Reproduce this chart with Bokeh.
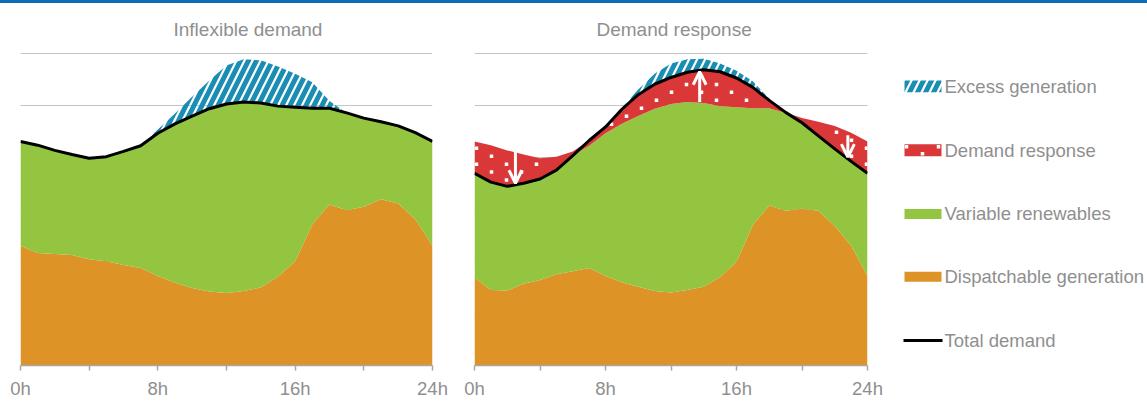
import numpy as np
from bokeh.plotting import figure
from bokeh.layouts import row, column
from bokeh.models import Range1d, FixedTicker, Arrow, OpenHead, ColumnDataSource, Div
from bokeh.core.properties import value
from bokeh.embed import file_html
from bokeh.resources import INLINE

# ---------------- data ----------------
hours = list(range(25))

demand_inflexible = [4.30, 4.23, 4.13, 4.05, 3.98, 4.01, 4.11, 4.22, 4.46, 4.64, 4.79, 4.93, 5.02,
                     5.06, 5.04, 4.98, 4.96, 4.94, 4.94, 4.85, 4.75, 4.68, 4.60, 4.47, 4.30]
dispatchable_left = [2.30, 2.16, 2.14, 2.12, 2.04, 2.00, 1.93, 1.87, 1.72, 1.59, 1.49, 1.42, 1.39,
                     1.43, 1.50, 1.71, 2.00, 2.71, 3.09, 2.98, 3.05, 3.19, 3.11, 2.81, 2.30]
supply_left = [None, None, None, None, None, None, None, None, 4.53, 4.84, 5.16, 5.47, 5.76,
               5.88, 5.86, 5.74, 5.60, 5.44, 5.08, None, None, None, None, None, None]

demand_flexible = [3.69, 3.52, 3.44, 3.50, 3.58, 3.75, 4.03, 4.32, 4.58, 4.92, 5.20, 5.40, 5.53,
                   5.63, 5.68, 5.64, 5.52, 5.34, 5.09, 4.86, 4.66, 4.41, 4.16, 3.92, 3.69]
dispatchable_right = [1.69, 1.45, 1.44, 1.57, 1.64, 1.75, 1.81, 1.87, 1.72, 1.60, 1.51, 1.43, 1.40,
                      1.45, 1.51, 1.70, 1.99, 2.70, 3.07, 2.97, 3.01, 2.97, 2.68, 2.30, 1.72]
supply_right = [None, None, None, None, None, None, None, None, None, 4.95, 5.30, 5.60, 5.80,
                5.88, 5.89, 5.80, 5.66, 5.46, 5.12, None, None, None, None, None, None]

arrow_hours = [2.5, 13.75, 22.8]
arrow_start = [4.10, 5.06, 4.42]
arrow_end = [3.50, 5.64, 4.00]

tick_hours = [0, 4, 8, 12, 16, 20, 24]
tick_labels = ["0h", "", "8h", "", "16h", "", "24h"]
grid_values = [1, 2, 3, 4, 5, 6]
panel_titles = ["Inflexible demand", "Demand response"]
legend_labels = ["Excess generation", "Demand response", "Variable renewables",
                 "Dispatchable generation", "Total demand"]

# ---------------- style ----------------
FONT = "Liberation Sans"
FS = "18.5px"
GREY = "#8f8f8f"
ORANGE = "#de9326"
GREEN = "#93c540"
RED = "#da3838"
BLUE = "#1a8db3"
TOPBLUE = "#0b6db6"
AXIS = "#a6a6a6"

FIG_H = 398          # below a 3px top bar
B_TOP = 47           # frame top (figure px)
B_BOT = 35           # bottom border
FRAME_H = FIG_H - B_TOP - B_BOT
Y_TOP = 6.048
PX_PER_UNIT = FRAME_H / Y_TOP

# white dot texture spacing (px)
DOT_DX, DOT_DY = 15.0, 16.0


def arr(a):
    return np.array([np.nan if v is None else v for v in a], dtype=float)


def panel(width, bl, br, title, title_offset):
    p = figure(width=width, height=FIG_H, x_range=Range1d(0, 24), y_range=Range1d(0, Y_TOP),
               min_border_left=bl, min_border_right=br, min_border_top=B_TOP,
               min_border_bottom=B_BOT, toolbar_location=None, output_backend="svg",
               y_axis_location=None, title=title)
    p.title.align = "left"
    p.title.offset = title_offset
    p.title.standoff = 22
    p.title.text_font = FONT
    p.title.text_font_size = "19px"
    p.title.text_font_style = "normal"
    p.title.text_color = GREY
    p.outline_line_color = None
    p.background_fill_color = "white"
    p.border_fill_color = "white"
    p.xgrid.visible = False
    p.ygrid.ticker = FixedTicker(ticks=grid_values)
    p.ygrid.grid_line_color = "#c4c4c4"
    p.ygrid.grid_line_width = 1
    ax = p.xaxis[0]
    ax.ticker = FixedTicker(ticks=tick_hours)
    ax.major_label_overrides = {h: l for h, l in zip(tick_hours, tick_labels)}
    ax.axis_line_color = AXIS
    ax.axis_line_width = 1.5
    ax.major_tick_line_color = AXIS
    ax.major_tick_line_width = 1.5
    ax.major_tick_in = 0
    ax.major_tick_out = 5
    ax.minor_tick_line_color = None
    ax.major_label_text_font = FONT
    ax.major_label_text_font_size = FS
    ax.major_label_text_color = GREY
    ax.major_label_standoff = 7
    return p


# ---------------- left panel ----------------
dl = arr(demand_inflexible)
sl = arr(supply_left)
src_l = ColumnDataSource(dict(
    h=hours, disp=dispatchable_left, dem=dl,
    exc=np.where(np.isnan(sl), dl, np.maximum(sl, dl)),
))
p1 = panel(452, 20, 20, panel_titles[0], 153)
p1.varea(x="h", y1=0, y2="disp", source=src_l, fill_color=ORANGE)
p1.varea(x="h", y1="disp", y2="dem", source=src_l, fill_color=GREEN)
p1.varea(x="h", y1="dem", y2="exc", source=src_l, fill_alpha=0, hatch_pattern="/",
         hatch_color=BLUE, hatch_weight=5, hatch_scale=16)
p1.line(x="h", y="dem", source=src_l, line_color="black", line_width=3, line_join="round")

# ---------------- right panel ----------------
df = arr(demand_flexible)
sr = arr(supply_right)
lo = np.minimum(dl, df)
hi = np.maximum(dl, df)
src_r = ColumnDataSource(dict(
    h=hours, disp=dispatchable_right, dem=df, lo=lo, hi=hi,
    exc=np.where(np.isnan(sr), df, np.maximum(sr, df)),
))
p2 = panel(433, 22, 18, panel_titles[1], 122)
p2.varea(x="h", y1=0, y2="disp", source=src_r, fill_color=ORANGE)
p2.varea(x="h", y1="disp", y2="lo", source=src_r, fill_color=GREEN)
p2.varea(x="h", y1="lo", y2="hi", source=src_r, fill_color=RED)

# texture of small white squares inside the demand-response band (staggered grid)
px_per_hour = 393 / 24
dots_h, dots_v = [], []
margin = 3.0 / PX_PER_UNIT
for j in range(int(393 / DOT_DX) + 1):
    xpx = 2 + j * DOT_DX
    hh = xpx / px_per_hour
    l_, h_ = np.interp(hh, hours, lo), np.interp(hh, hours, hi)
    for k in range(-2, 40):
        ypx = 10 + k * DOT_DY + (DOT_DY / 2 if j % 2 else 0)
        vv = ypx / PX_PER_UNIT
        if l_ + margin < vv < h_ - margin:
            dots_h.append(hh)
            dots_v.append(vv)
p2.scatter(x=dots_h, y=dots_v, marker="square", size=3.5, fill_color="white", line_color=None)

p2.varea(x="h", y1="dem", y2="exc", source=src_r, fill_alpha=0, hatch_pattern="/",
         hatch_color=BLUE, hatch_weight=5, hatch_scale=16)
p2.line(x="h", y="dem", source=src_r, line_color="black", line_width=3, line_join="round")
for h, a, b in zip(arrow_hours, arrow_start, arrow_end):
    p2.add_layout(Arrow(x_start=h, y_start=a, x_end=h, y_end=b, line_color="white", line_width=3,
                        end=OpenHead(size=13, line_color="white", line_width=3)))

# ---------------- legend (data coords = page px) ----------------
p3 = figure(width=262, height=FIG_H, x_range=Range1d(885, 1147), y_range=Range1d(366, 50),
            min_border_left=0, min_border_right=0, min_border_top=B_TOP, min_border_bottom=B_BOT,
            toolbar_location=None, output_backend="svg",
            x_axis_location=None, y_axis_location=None)
p3.outline_line_color = None
p3.xgrid.visible = False
p3.ygrid.visible = False
cy = [86, 150, 214, 277, 341]
p3.quad(left=904, right=941, top=cy[0] - 6, bottom=cy[0] + 6, fill_alpha=0, line_color=None,
        hatch_pattern="/", hatch_color=BLUE, hatch_weight=5, hatch_scale=16)
p3.quad(left=904, right=941, top=cy[1] - 6, bottom=cy[1] + 6, fill_color=RED, line_color=None)
p3.scatter(x=[906, 922, 938], y=[cy[1] - 3.5, cy[1] + 3.5, cy[1] - 3.5], marker="square",
           size=3.5, fill_color="white", line_color=None)
p3.quad(left=904, right=941, top=cy[2] - 5, bottom=cy[2] + 5, fill_color=GREEN, line_color=None)
p3.quad(left=904, right=941, top=cy[3] - 5, bottom=cy[3] + 5, fill_color=ORANGE, line_color=None)
p3.line(x=[903, 942], y=[cy[4], cy[4]], line_color="black", line_width=3)
p3.text(x=[944] * 5, y=cy, text=legend_labels, text_font=value(FONT), text_font_size=FS,
        text_color=GREY, text_baseline="middle", text_align="left")

topbar = Div(text="", width=1147, height=3, margin=0, styles={"background-color": TOPBLUE})
layout = column(topbar, row(p1, p2, p3, spacing=0), spacing=0)

open("out.html", "w").write(file_html(layout, INLINE))
